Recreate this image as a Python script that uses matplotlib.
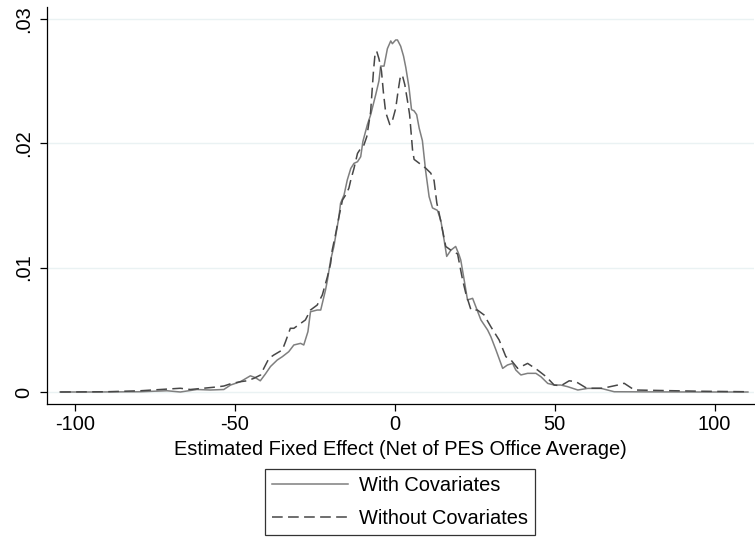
import matplotlib
matplotlib.use("Agg")
import matplotlib.pyplot as plt

plt.rcParams['font.family'] = ['Liberation Sans', 'DejaVu Sans']

# Kernel density estimates
x_with = [-104.7, -94.3, -79.6, -71.3, -67.1, -61.9, -57.7, -53.5, -51.4, -48.3,
          -45.2, -43.6, -42.1, -40.5, -38.9, -36.8, -35.2, -33.2, -31.6, -29.5,
          -28.5, -27.2, -26.4, -24.3, -23.2, -21.7, -21.1, -20.1, -19.1, -17.5,
          -17.0, -15.9, -14.9, -13.8, -12.8, -11.7, -10.7, -10.0, -8.6, -7.6,
          -6.0, -5.0, -4.45, -3.4, -2.35, -1.3, -0.8, 0.25, 0.8, 1.8,
          2.7, 3.4, 4.4, 5.2, 6.0, 6.8, 7.6, 8.6, 9.6, 10.7,
          11.75, 13.3, 14.35, 15.4, 16.2, 17.5, 19.0, 20.1, 20.6, 21.6,
          22.7, 24.3, 25.3, 26.9, 29.0, 30.0, 31.6, 33.7, 35.2, 36.8,
          37.8, 39.4, 41.5, 44.1, 45.7, 47.8, 49.8, 51.9, 54.0, 57.2,
          60.3, 64.5, 68.6, 80.0, 95.0, 110.4]
y_with = [0.00000, 0.00000, 0.00002, 0.00010, 0.00000, 0.00020, 0.00016, 0.00020, 0.00056, 0.00083,
          0.00130, 0.00115, 0.00090, 0.00145, 0.00205, 0.00257, 0.00284, 0.00324, 0.00378, 0.00391,
          0.00378, 0.00485, 0.00645, 0.00659, 0.00659, 0.00820, 0.00900, 0.01061, 0.01168, 0.01409,
          0.01517, 0.01584, 0.01704, 0.01797, 0.01838, 0.01851, 0.01891, 0.02015, 0.02150, 0.02227,
          0.02390, 0.02500, 0.02620, 0.02620, 0.02760, 0.02822, 0.02800, 0.02830, 0.02830, 0.02780,
          0.02700, 0.02610, 0.02450, 0.02270, 0.02260, 0.02230, 0.02120, 0.02020, 0.01780, 0.01570,
          0.01480, 0.01460, 0.01380, 0.01220, 0.01090, 0.01140, 0.01170, 0.01100, 0.01060, 0.00910,
          0.00740, 0.00753, 0.00686, 0.00579, 0.00498, 0.00445, 0.00338, 0.00190, 0.00217, 0.00230,
          0.00177, 0.00137, 0.00150, 0.00150, 0.00122, 0.00069, 0.00056, 0.00056, 0.00043, 0.00016,
          0.00029, 0.00029, 0.00002, 0.00001, 0.00000, 0.00000]

x_without = [-104.7, -90.1, -79.6, -67.1, -64.0, -56.7, -53.5, -51.4, -48.3, -46.2,
             -44.1, -42.0, -41.0, -39.4, -37.9, -35.2, -34.2, -32.7, -31.6, -28.0,
             -26.4, -24.3, -22.7, -21.1, -20.1, -19.6, -18.5, -17.5, -16.4, -15.4,
             -14.4, -13.8, -12.8, -11.7, -10.7, -9.7, -8.8, -7.6, -6.7, -6.2,
             -5.7, -5.0, -4.2, -3.6, -2.9, -1.6, -0.8, 0.25, 1.0, 1.6,
             2.3, 3.1, 4.0, 4.6, 5.5, 6.0, 7.55, 9.6, 11.2, 12.25,
             13.1, 13.8, 14.9, 15.9, 17.5, 19.6, 21.1, 22.2, 23.8, 25.8,
             27.9, 30.0, 32.6, 34.7, 36.3, 38.4, 41.5, 44.6, 47.3, 49.8,
             51.9, 54.5, 56.6, 60.0, 65.0, 69.7, 71.7, 74.9, 85.4, 95.8,
             110.4]
y_without = [0.00000, 0.00002, 0.00010, 0.00030, 0.00020, 0.00038, 0.00048, 0.00066, 0.00083, 0.00090,
             0.00110, 0.00137, 0.00190, 0.00270, 0.00297, 0.00338, 0.00405, 0.00512, 0.00512, 0.00579,
             0.00659, 0.00699, 0.00780, 0.00927, 0.01034, 0.01141, 0.01275, 0.01409, 0.01543, 0.01584,
             0.01638, 0.01704, 0.01797, 0.01918, 0.01958, 0.01985, 0.02052, 0.02250, 0.02580, 0.02720,
             0.02740, 0.02680, 0.02580, 0.02410, 0.02250, 0.02150, 0.02180, 0.02280, 0.02420, 0.02520,
             0.02550, 0.02470, 0.02330, 0.02230, 0.01950, 0.01870, 0.01840, 0.01800, 0.01760, 0.01700,
             0.01520, 0.01440, 0.01300, 0.01170, 0.01140, 0.01110, 0.00910, 0.00790, 0.00659, 0.00659,
             0.00619, 0.00525, 0.00418, 0.00284, 0.00257, 0.00190, 0.00230, 0.00177, 0.00123, 0.00056,
             0.00050, 0.00090, 0.00083, 0.00030, 0.00030, 0.00056, 0.00070, 0.00016, 0.00011, 0.00006,
             0.00002]

series_labels = ["With Covariates", "Without Covariates"]
x_ticks = [-100, -50, 0, 50, 100]
x_ticklabels = ["-100", "-50", "0", "50", "100"]
y_ticks = [0, 0.01, 0.02, 0.03]
y_ticklabels = ["0", ".01", ".02", ".03"]
x_label = "Estimated Fixed Effect (Net of PES Office Average)"

FS = 14.4
W, H = 755, 538
fig = plt.figure(figsize=(W / 100, H / 100), dpi=100)
ax = fig.add_axes([47 / W, 1 - 404 / H, (754 - 47) / W, (404 - 7) / H])

ax.plot(x_with, y_with, color='#7f7f7f', lw=1.1, label=series_labels[0])
ax.plot(x_without, y_without, color='#474747', lw=1.1, dashes=(7, 3.5),
        label=series_labels[1])

ax.set_xlim(-108.8, 112.3)
ax.set_ylim(-0.000965, 0.03095)
ax.set_xticks(x_ticks)
ax.set_xticklabels(x_ticklabels)
ax.set_yticks(y_ticks)
ax.set_yticklabels(y_ticklabels, rotation=90, va='center')
ax.tick_params(axis='both', direction='out', length=5, width=0.9, colors='black',
               labelsize=FS, pad=3)
ax.tick_params(axis='y', pad=5)
ax.grid(axis='y', color='#eaf2f3', lw=1.0)
ax.set_axisbelow(True)
for s in ['top', 'right']:
    ax.spines[s].set_visible(False)
for s in ['left', 'bottom']:
    ax.spines[s].set_color('black')
    ax.spines[s].set_linewidth(0.9)
ax.set_xlabel(x_label, fontsize=FS, labelpad=4)

leg = fig.legend(loc='center', bbox_to_anchor=(400 / W, 1 - 502 / H),
                 fontsize=FS, frameon=True, fancybox=False, edgecolor='black',
                 handlelength=3.8, handletextpad=0.55, borderpad=0.35, labelspacing=0.68)
leg.get_frame().set_linewidth(0.9)

fig.savefig("out.png", dpi=100, facecolor='white')
